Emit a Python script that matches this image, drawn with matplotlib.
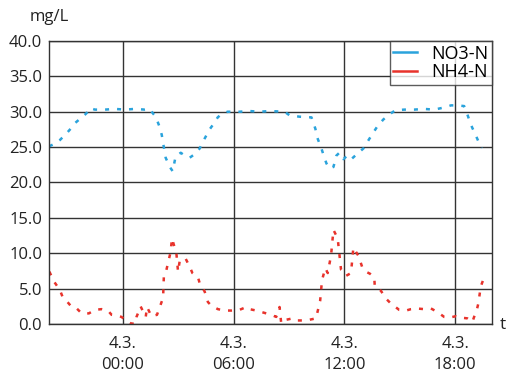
import matplotlib
matplotlib.use("Agg")
import matplotlib.pyplot as plt

plt.rcParams['font.family'] = ['Open Sans', 'DejaVu Sans']

# hours relative to 4.3. 00:00
no3_t = [-4.0, -3.68, -3.41, -3.03, -2.76, -2.59, -2.32, -2.05, -1.89, -1.78, -1.51, -0.97,
         -0.43, 0.11, 0.65, 1.19, 1.46, 1.62, 1.78, 2.0, 2.11, 2.22, 2.32, 2.54, 2.70, 2.86,
         3.14, 3.35, 3.62, 3.89, 4.16, 4.43, 4.70, 4.92, 5.14, 5.35, 5.68, 6.32, 6.86, 7.41,
         7.95, 8.76, 9.03, 9.57, 10.22, 10.43, 10.54, 10.76, 10.92, 11.03, 11.19, 11.41,
         11.57, 11.73, 11.95, 12.16, 12.38, 12.59, 12.81, 13.03, 13.24, 13.46, 13.78, 14.11,
         14.43, 14.76, 15.24, 15.78, 16.32, 16.86, 17.41, 17.78, 18.11, 18.49, 18.59, 18.76,
         18.92, 19.08, 19.30, 19.46]
no3_v = [25.1, 25.5, 26.0, 27.0, 27.8, 28.4, 29.0, 29.6, 30.0, 30.5, 30.3, 30.3,
         30.4, 30.3, 30.4, 30.3, 30.4, 29.8, 29.3, 27.8, 26.7, 25.0, 23.5, 22.2, 21.6, 23.7,
         24.2, 23.8, 23.5, 24.0, 24.8, 26.2, 27.5, 28.3, 29.2, 29.7, 30.0, 30.0, 30.1, 30.0,
         30.1, 30.0, 29.5, 29.3, 29.2, 27.6, 26.3, 24.8, 23.5, 22.7, 22.0, 22.2,
         23.8, 24.2, 23.3, 23.8, 23.3, 23.8, 24.3, 24.8, 25.7, 26.6, 27.9, 28.9,
         29.6, 30.2, 30.3, 30.3, 30.4, 30.3, 30.6, 30.9, 30.9, 30.8, 30.2, 28.9,
         27.8, 26.9, 25.6, 24.9]

nh4_t = [-3.98, -3.73, -3.41, -3.26, -3.03, -2.77, -2.50, -2.23, -1.84, -1.51, -1.15, -0.81,
         -0.61, -0.34, -0.07, 0.20, 0.42, 0.65, 0.74, 0.88, 0.96, 1.24, 1.31, 1.55, 1.85,
         2.18, 2.22, 2.32, 2.59, 2.66, 2.90, 2.99, 3.08, 3.39, 3.62, 3.77, 4.07, 4.16, 4.43,
         4.61, 4.79, 5.15, 5.51, 5.88, 6.32, 6.69, 6.86, 7.23, 7.50, 7.77, 8.04, 8.31, 8.49,
         8.58, 8.85, 9.21, 9.39, 9.75, 10.11, 10.47, 10.51, 10.69, 10.79, 10.97, 11.10, 11.28,
         11.41, 11.64, 11.82, 11.91, 12.09, 12.36, 12.49, 12.77, 12.96, 13.17, 13.39, 13.62,
         13.65, 13.98, 14.25, 14.52, 14.97, 15.34, 15.61, 15.91, 16.32, 16.69, 17.04, 17.41,
         17.68, 18.04, 18.31, 18.66, 18.94, 19.03, 19.15, 19.26, 19.39, 19.62]
nh4_v = [7.4, 6.0, 4.8, 3.8, 3.2, 2.4, 2.2, 1.5, 1.5, 2.0, 2.1, 1.9,
         1.3, 1.2, 1.0, 0.4, 0.1, 0.0, 1.0, 1.9, 2.5, 1.0, 2.4, 1.1, 1.3,
         3.7, 6.6, 7.2, 10.2, 12.1, 10.0, 7.4, 8.9, 9.3, 8.1, 7.2, 6.6, 5.8, 4.6,
         3.1, 2.6, 2.1, 1.9, 1.9, 2.0, 2.4, 2.1, 1.9, 1.7, 1.5, 1.3, 1.0, 2.4,
         0.1, 0.6, 0.8, 0.5, 0.5, 0.6, 0.8, 1.3, 3.3, 6.2, 7.9, 7.2, 9.7,
         13.3, 12.1, 7.7, 7.5, 6.8, 7.2, 10.8, 9.6, 8.1, 7.4, 7.1, 6.6,
         5.3, 4.7, 3.6, 2.9, 2.0, 1.9, 2.1, 2.2, 2.1, 2.2, 1.7, 1.0,
         0.9, 1.1, 0.9, 0.8, 0.3, 1.0, 1.7, 2.9, 5.3, 6.9]

xticks = [0, 6, 12, 18]
xticklabels = ['4.3.\n00:00', '4.3.\n06:00', '4.3.\n12:00', '4.3.\n18:00']
yticks = [0, 5, 10, 15, 20, 25, 30, 35, 40]

blue = '#2aa3dc'
red = '#e8332c'

fig = plt.figure(figsize=(5.09, 3.76), dpi=100)
ax = fig.add_axes([0.0963, 0.1383, 0.8703, 0.7527])

ax.plot(no3_t, no3_v, color=blue, lw=1.8, linestyle=(0, (1.6, 3.2)), label='NO3-N')
ax.plot(nh4_t, nh4_v, color=red, lw=1.8, linestyle=(0, (1.6, 3.2)), label='NH4-N')

ax.set_xlim(-4, 20)
ax.set_ylim(0, 40)
ax.set_xticks(xticks)
ax.set_xticklabels(xticklabels, linespacing=1.35)
ax.set_yticks(yticks)
ax.set_yticklabels(['%.1f' % v for v in yticks])
ax.tick_params(length=0, labelsize=12, colors='#222222')
ax.tick_params(axis='x', pad=9)
ax.tick_params(axis='y', pad=5)
ax.grid(True, color='#333333', lw=1)
ax.set_axisbelow(True)
for s in ax.spines.values():
    s.set_color('#333333')
    s.set_linewidth(1)

fig.text(0.059, 0.955, 'mg/L', fontsize=12, color='#222222', va='center')
fig.text(0.987, 0.135, 't', fontsize=12.5, color='#222222', va='center', ha='center')

leg = ax.legend(loc='upper right', fontsize=13, frameon=True, fancybox=False,
                borderaxespad=0, handlelength=1.3, borderpad=0.2, labelspacing=0.05,
                handletextpad=0.8)
leg.get_frame().set_edgecolor('#333333')
leg.get_frame().set_linewidth(1)
for h in leg.get_lines():
    h.set_linestyle('-')

fig.savefig('out.png', dpi=100)
